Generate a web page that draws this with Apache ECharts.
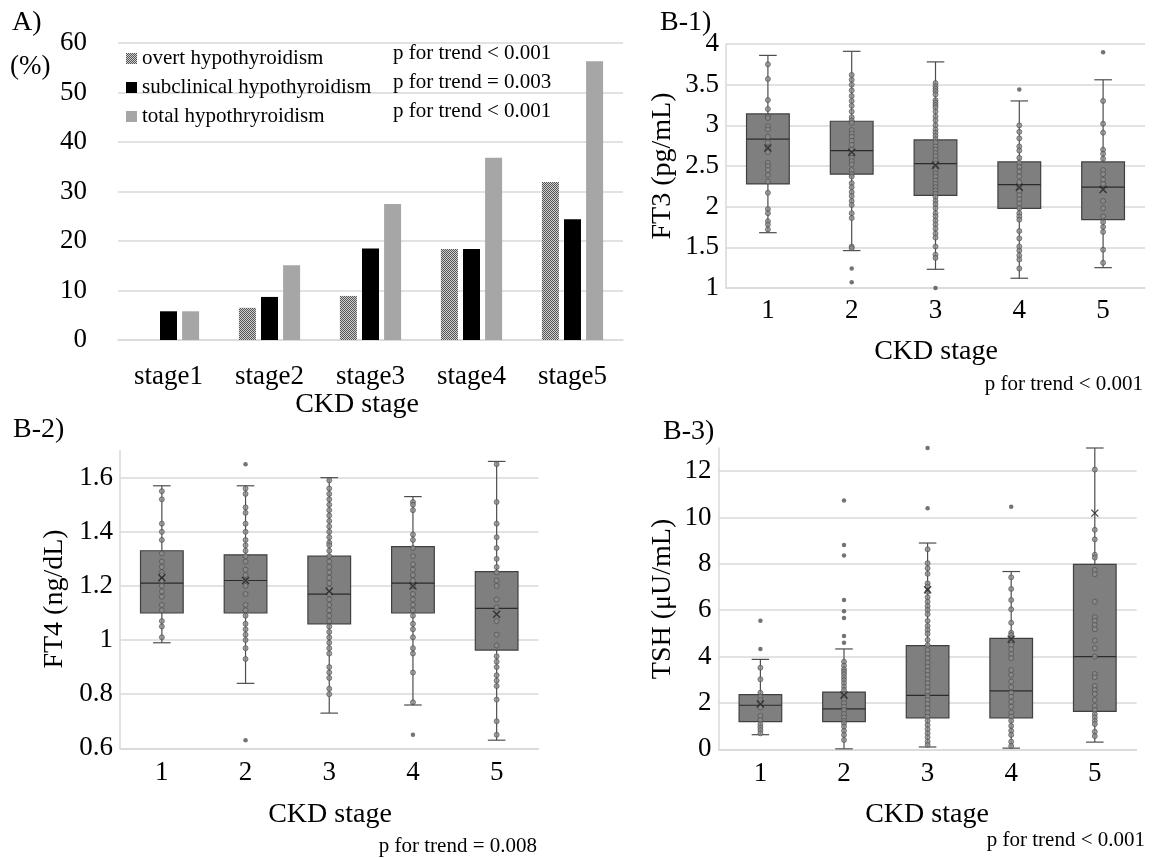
<!DOCTYPE html>
<html>
<head>
<meta charset="utf-8">
<title>CKD stage and thyroid function</title>
<script src="https://cdn.jsdelivr.net/npm/echarts@6/dist/echarts.min.js"></script>
<style>
html, body { margin: 0; padding: 0; background: #fff; }
#chart { width: 1160px; height: 858px; }
</style>
</head>
<body>
<div id="chart"></div>
<script>
// A) prevalence of hypothyroidism by CKD stage (%)
var stages = ['stage1', 'stage2', 'stage3', 'stage4', 'stage5'];
var overtPct = [0, 6.5, 8.9, 18.4, 31.9];
var subclinicalPct = [5.8, 8.7, 18.5, 18.4, 24.4];
var totalPct = [5.8, 15.1, 27.5, 36.8, 56.3];
var legendNames = ['overt hypothyroidism', 'subclinical hypothyroidism', 'total hypothryroidism'];
var legendP = ['p for trend < 0.001', 'p for trend = 0.003', 'p for trend < 0.001'];

// B) box plots, x = CKD stage 1..5
var ckdLabels = ['1', '2', '3', '4', '5'];

// [min, Q1, median, Q3, max]
var ft3Box = [
  [1.68, 2.28, 2.83, 3.14, 3.86],
  [1.46, 2.40, 2.69, 3.05, 3.91],
  [1.23, 2.14, 2.53, 2.82, 3.78],
  [1.12, 1.98, 2.27, 2.55, 3.30],
  [1.25, 1.84, 2.24, 2.55, 3.56]
];
var ft3Mean = [2.72, 2.67, 2.51, 2.24, 2.21];
var ft3Outliers = [[1, 1.24], [1, 1.07], [2, 1.00], [3, 3.44], [4, 3.90]];
var ft3Points = [
  [3.75, 3.57, 3.31, 3.2, 3.11, 3.09, 2.99, 2.95, 2.86, 2.79, 2.72, 2.67, 2.54, 2.5, 2.45, 2.39, 2.31, 2.17, 1.97, 1.92, 1.82, 1.78, 1.72],
  [3.62, 3.56, 3.5, 3.43, 3.36, 3.3, 3.24, 3.17, 3.1, 3.06, 3.03, 2.94, 2.9, 2.86, 2.81, 2.76, 2.7, 2.65, 2.6, 2.56, 2.52, 2.45, 2.4, 2.37, 2.29, 2.24, 2.18, 2.13, 2.07, 2.02, 1.92, 1.86, 1.51, 1.49],
  [3.52, 3.48, 3.45, 3.42, 3.38, 3.31, 3.28, 3.25, 3.22, 3.17, 3.11, 3.06, 3.0, 2.95, 2.91, 2.87, 2.83, 2.79, 2.74, 2.7, 2.66, 2.62, 2.57, 2.53, 2.49, 2.45, 2.41, 2.37, 2.32, 2.28, 2.24, 2.2, 2.16, 2.12, 2.07, 2.03, 1.98, 1.92, 1.88, 1.83, 1.78, 1.73, 1.67, 1.62, 1.51, 1.41, 1.37],
  [3.0, 2.92, 2.84, 2.74, 2.69, 2.6, 2.54, 2.49, 2.43, 2.37, 2.3, 2.24, 2.19, 2.14, 2.09, 2.04, 1.98, 1.92, 1.88, 1.84, 1.7, 1.61, 1.51, 1.46, 1.4, 1.35, 1.24],
  [3.3, 3.02, 2.91, 2.7, 2.65, 2.59, 2.45, 2.4, 2.33, 2.28, 2.07, 1.98, 1.88, 1.81, 1.75, 1.69, 1.47, 1.31]
];

var ft4Box = [
  [0.99, 1.10, 1.21, 1.33, 1.57],
  [0.84, 1.10, 1.22, 1.315, 1.57],
  [0.73, 1.06, 1.17, 1.31, 1.60],
  [0.76, 1.10, 1.21, 1.345, 1.53],
  [0.63, 0.963, 1.117, 1.253, 1.66]
];
var ft4Mean = [1.23, 1.22, 1.18, 1.20, 1.095];
var ft4Outliers = [[1, 1.65], [1, 0.63], [3, 0.65]];
var ft4Points = [
  [1.55, 1.52, 1.43, 1.4, 1.37, 1.32, 1.29, 1.27, 1.25, 1.24, 1.22, 1.2, 1.18, 1.16, 1.13, 1.11, 1.07, 1.05, 1.01],
  [1.56, 1.54, 1.49, 1.47, 1.43, 1.4, 1.37, 1.35, 1.33, 1.31, 1.29, 1.26, 1.24, 1.22, 1.2, 1.17, 1.13, 1.11, 1.09, 1.06, 1.04, 1.02, 1.0, 0.97, 0.93],
  [1.59, 1.56, 1.54, 1.52, 1.5, 1.48, 1.46, 1.44, 1.42, 1.4, 1.38, 1.36, 1.35, 1.33, 1.31, 1.29, 1.27, 1.25, 1.23, 1.21, 1.19, 1.17, 1.15, 1.13, 1.11, 1.09, 1.07, 1.05, 1.03, 1.01, 0.99, 0.97, 0.95, 0.9, 0.88, 0.86, 0.82, 0.8],
  [1.51, 1.5, 1.48, 1.39, 1.37, 1.34, 1.31, 1.28, 1.26, 1.24, 1.22, 1.2, 1.17, 1.15, 1.13, 1.11, 1.09, 1.06, 1.04, 1.01, 0.97, 0.95, 0.88, 0.77],
  [1.65, 1.51, 1.43, 1.38, 1.34, 1.3, 1.27, 1.25, 1.22, 1.2, 1.15, 1.12, 1.07, 1.02, 0.98, 0.94, 0.92, 0.9, 0.87, 0.85, 0.83, 0.78, 0.7, 0.65]
];

var tshBox = [
  [0.63, 1.19, 1.90, 2.36, 3.88],
  [0.02, 1.19, 1.74, 2.47, 4.33],
  [0.10, 1.36, 2.33, 4.47, 8.90],
  [0.05, 1.36, 2.52, 4.79, 7.67],
  [0.31, 1.64, 4.00, 7.98, 13.0]
];
var tshMean = [1.95, 2.34, 6.88, 4.75, 10.19];
var tshOutliers = [[0, 4.33], [0, 5.55], [1, 4.6], [1, 4.89], [1, 5.67], [1, 5.96], [1, 6.44], [1, 8.36], [1, 8.82], [1, 10.73], [2, 10.4], [2, 13.0], [3, 10.47]];
var tshPoints = [
  [3.52, 3.02, 2.44, 2.27, 2.13, 2.0, 1.81, 1.44, 1.26, 1.08, 0.95, 0.83, 0.69],
  [3.78, 3.61, 3.45, 3.35, 3.24, 3.11, 2.99, 2.85, 2.7, 2.56, 2.39, 2.24, 2.13, 1.99, 1.84, 1.7, 1.52, 1.38, 1.23, 1.12, 0.98, 0.8, 0.62, 0.4],
  [8.63, 8.03, 7.81, 7.57, 7.16, 7.02, 6.8, 6.56, 6.37, 6.18, 6.01, 5.83, 5.54, 5.32, 5.15, 4.98, 4.72, 4.5, 4.28, 4.11, 3.93, 3.74, 3.57, 3.38, 3.21, 3.02, 2.85, 2.68, 2.49, 2.3, 2.13, 1.96, 1.77, 1.58, 1.41, 1.23, 1.05, 0.86, 0.69, 0.52, 0.33, 0.19],
  [7.42, 6.92, 6.44, 6.04, 5.46, 5.03, 4.93, 4.79, 4.69, 4.5, 4.32, 4.11, 3.93, 3.42, 3.21, 2.92, 2.68, 2.44, 2.27, 2.05, 1.84, 1.58, 1.41, 1.23, 1.01, 0.8, 0.62, 0.33, 0.14],
  [12.07, 9.47, 9.06, 8.39, 8.27, 7.74, 7.55, 6.37, 5.7, 5.55, 5.36, 5.18, 4.69, 4.36, 4.0, 3.25, 3.11, 2.73, 2.56, 2.39, 2.13, 1.87, 1.7, 1.52, 1.38, 1.23, 1.09, 0.76, 0.57]
];

var FONT = '"Liberation Serif", "Times New Roman", serif';
var GRID_LINE = '#d9d9d9';

// checkered fill for overt hypothyroidism
var pat = document.createElement('canvas');
pat.width = 2; pat.height = 2;
var pc = pat.getContext('2d');
pc.fillStyle = '#cfcfcf'; pc.fillRect(0, 0, 2, 2);
pc.fillStyle = '#555555'; pc.fillRect(0, 0, 1, 1); pc.fillRect(1, 1, 1, 1);

function txt (text, x, y, size, align, rot) {
  return {
    type: 'text', x: x, y: y, rotation: rot || 0, z: 10,
    style: {
      text: text, font: size + 'px ' + FONT, fill: '#000',
      align: align || 'center', verticalAlign: 'middle',
      textAlign: align || 'center', textVerticalAlign: 'middle'
    }
  };
}

function renderBox (params, api) {
  var i = api.value(0);
  var lo = api.coord([i, api.value(1)]);
  var q1 = api.coord([i, api.value(2)]);
  var md = api.coord([i, api.value(3)]);
  var q3 = api.coord([i, api.value(4)]);
  var hi = api.coord([i, api.value(5)]);
  var band = api.size([1, 0])[0];
  var bw = band * 0.51;
  var cw = band * 0.21;
  var x = md[0];
  var ln = { stroke: '#4d4d4d', lineWidth: 1.2 };
  return {
    type: 'group',
    children: [
      { type: 'line', shape: { x1: x, y1: hi[1], x2: x, y2: lo[1] }, style: ln },
      { type: 'line', shape: { x1: x - cw / 2, y1: hi[1], x2: x + cw / 2, y2: hi[1] }, style: ln },
      { type: 'line', shape: { x1: x - cw / 2, y1: lo[1], x2: x + cw / 2, y2: lo[1] }, style: ln },
      { type: 'rect', shape: { x: x - bw / 2, y: q3[1], width: bw, height: q1[1] - q3[1] }, style: { fill: '#7f7f7f', stroke: '#404040', lineWidth: 1.2 } },
      { type: 'line', shape: { x1: x - bw / 2, y1: md[1], x2: x + bw / 2, y2: md[1] }, style: { stroke: '#2b2b2b', lineWidth: 1.2 } }
    ]
  };
}

function boxSeries (gi, box, mean, outliers, points) {
  var inner = [];
  points.forEach(function (list, i) {
    list.forEach(function (v) { inner.push([i, v]); });
  });
  return [
    {
      type: 'custom', xAxisIndex: gi, yAxisIndex: gi, z: 2,
      renderItem: renderBox,
      encode: { x: 0, y: [1, 2, 3, 4, 5] },
      data: box.map(function (b, i) { return [i].concat(b); })
    },
    {
      type: 'scatter', xAxisIndex: gi, yAxisIndex: gi, z: 3, symbolSize: 5,
      itemStyle: { color: '#8c8c8c', borderColor: '#4a4a4a', borderWidth: 0.8 },
      data: inner
    },
    {
      type: 'scatter', xAxisIndex: gi, yAxisIndex: gi, z: 3, symbolSize: 4.5,
      itemStyle: { color: '#505050' },
      data: outliers
    },
    {
      type: 'scatter', xAxisIndex: gi, yAxisIndex: gi, z: 4, symbolSize: 7,
      symbol: 'path://M0,0L10,10M10,0L0,10',
      itemStyle: { color: 'transparent', borderColor: '#222', borderWidth: 1.4 },
      data: mean.map(function (m, i) { return [i, m]; })
    }
  ];
}

function catAxis (gi, data, margin) {
  return {
    type: 'category', gridIndex: gi, data: data,
    axisTick: { show: false },
    axisLine: { lineStyle: { color: GRID_LINE, width: 1.5 } },
    axisLabel: { color: '#000', fontFamily: FONT, fontSize: 27, margin: margin }
  };
}

function valAxis (gi, min, max, interval, margin, showAxisLine) {
  return {
    type: 'value', gridIndex: gi, min: min, max: max, interval: interval,
    axisLine: { show: showAxisLine, lineStyle: { color: GRID_LINE, width: 1.5 } },
    axisTick: { show: false },
    axisLabel: { color: '#000', fontFamily: FONT, fontSize: 27, margin: margin, showMaxLabel: (max % interval === 0) },
    splitLine: { lineStyle: { color: GRID_LINE, width: 1.5 }, showMaxLine: (max % interval === 0) }
  };
}

var chart = echarts.init(document.getElementById('chart'));

var option = {
  backgroundColor: '#fff',
  animation: false,
  grid: [
    { left: 118, top: 43, width: 505, height: 297 },
    { left: 726, top: 44, width: 419, height: 244 },
    { left: 120, top: 450.6, width: 418.5, height: 297.7 },
    { left: 718.6, top: 448, width: 418, height: 301.3 }
  ],
  xAxis: [
    catAxis(0, stages, 23),
    catAxis(1, ckdLabels, 9),
    catAxis(2, ckdLabels, 11),
    catAxis(3, ckdLabels, 11)
  ],
  yAxis: [
    valAxis(0, 0, 60, 10, 31, false),
    valAxis(1, 1, 4, 0.5, 7, true),
    valAxis(2, 0.6, 1.7, 0.2, 7, true),
    valAxis(3, 0, 13, 2, 7, true)
  ],
  legend: {
    data: legendNames,
    orient: 'vertical', left: 121, top: 43,
    itemWidth: 11, itemHeight: 11, itemGap: 8, icon: 'rect',
    selectedMode: false,
    textStyle: { color: '#000', fontFamily: FONT, fontSize: 21, lineHeight: 21 }
  },
  graphic: [
    txt('A)', 12, 23, 28, 'left'),
    txt('(%)', 10, 67, 27, 'left'),
    txt(legendP[0], 393, 53.5, 21, 'left'),
    txt(legendP[1], 393, 82.5, 21, 'left'),
    txt(legendP[2], 393, 111.5, 21, 'left'),
    txt('CKD stage', 357, 405, 28),

    txt('B-1)', 660, 23, 28, 'left'),
    txt('FT3 (pg/mL)', 663, 166, 28, 'center', Math.PI / 2),
    txt('CKD stage', 936, 352, 28),
    txt('p for trend < 0.001', 1143, 384, 21, 'right'),

    txt('B-2)', 13, 430, 28, 'left'),
    txt('FT4 (ng/dL)', 55, 599, 28, 'center', Math.PI / 2),
    txt('CKD stage', 330, 815, 28),
    txt('p for trend = 0.008', 537, 846, 21, 'right'),

    txt('B-3)', 663, 432, 28, 'left'),
    txt('TSH (μU/mL)', 663, 599, 28, 'center', Math.PI / 2),
    txt('CKD stage', 927, 815, 28),
    txt('p for trend < 0.001', 1145, 840, 21, 'right')
  ],
  series: [
    {
      name: legendNames[0], type: 'bar', xAxisIndex: 0, yAxisIndex: 0,
      barWidth: 17, barGap: '30%',
      itemStyle: { color: { image: pat, repeat: 'repeat' } },
      data: overtPct
    },
    {
      name: legendNames[1], type: 'bar', xAxisIndex: 0, yAxisIndex: 0,
      barWidth: 17, barGap: '30%',
      itemStyle: { color: '#000' },
      data: subclinicalPct
    },
    {
      name: legendNames[2], type: 'bar', xAxisIndex: 0, yAxisIndex: 0,
      barWidth: 17, barGap: '30%',
      itemStyle: { color: '#a6a6a6' },
      data: totalPct
    }
  ]
    .concat(boxSeries(1, ft3Box, ft3Mean, ft3Outliers, ft3Points))
    .concat(boxSeries(2, ft4Box, ft4Mean, ft4Outliers, ft4Points))
    .concat(boxSeries(3, tshBox, tshMean, tshOutliers, tshPoints))
};

chart.setOption(option);
window.addEventListener('resize', function () {
  chart.resize();
});
</script>
</body>
</html>
